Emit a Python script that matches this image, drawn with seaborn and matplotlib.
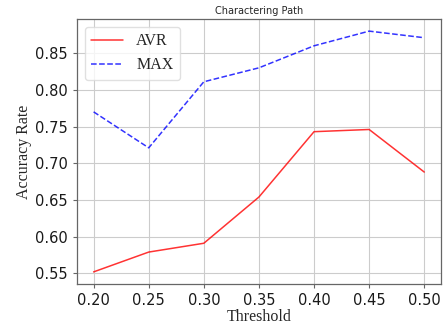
import pandas as pd
import matplotlib
matplotlib.use("Agg")
import matplotlib.pyplot as plt
import seaborn as sns

# values
thresholds = [0.20, 0.25, 0.30, 0.35, 0.40, 0.45, 0.50]
avr_acc = [0.552, 0.579, 0.591, 0.654, 0.743, 0.746, 0.688]
max_acc = [0.770, 0.721, 0.811, 0.830, 0.860, 0.880, 0.871]

sns.set_style("whitegrid", {"axes.edgecolor": "0.4", "grid.color": "0.8",
                            "xtick.bottom": True, "ytick.left": True})
plt.rcParams["font.family"] = ["DejaVu Sans"]

df = pd.DataFrame({"Threshold": thresholds, "AVR": avr_acc, "MAX": max_acc})

fig = plt.figure(figsize=(4.43, 3.29), dpi=100)
ax = fig.add_axes([0.174, 0.137, 0.821, 0.805])

sns.lineplot(data=df, x="Threshold", y="AVR", ax=ax, color="red", alpha=0.8,
             linewidth=1.1, label="AVR")
sns.lineplot(data=df, x="Threshold", y="MAX", ax=ax, color="blue", alpha=0.8,
             linewidth=1.1, linestyle="--", label="MAX")

ax.set_xticks(thresholds)
ax.set_xticklabels([f"{t:.2f}" for t in thresholds])
ax.tick_params(axis="both", labelsize=10.5, length=3, color="0.4", width=0.8,
               labelcolor="0.1")
ax.set_xlabel("Threshold", fontfamily="Liberation Serif", fontsize=11.5, labelpad=1)
ax.set_ylabel("Accuracy Rate", fontfamily="Liberation Serif", fontsize=11.5, labelpad=2)
ax.set_title("Charactering Path", fontsize=7, pad=4)

leg = ax.legend(loc="upper left", prop={"family": "Liberation Serif", "size": 11.5},
                frameon=True, borderaxespad=0.5)
leg.get_frame().set_edgecolor("0.85")

for s in ax.spines.values():
    s.set_linewidth(0.9)

fig.savefig("out.png", dpi=100)
